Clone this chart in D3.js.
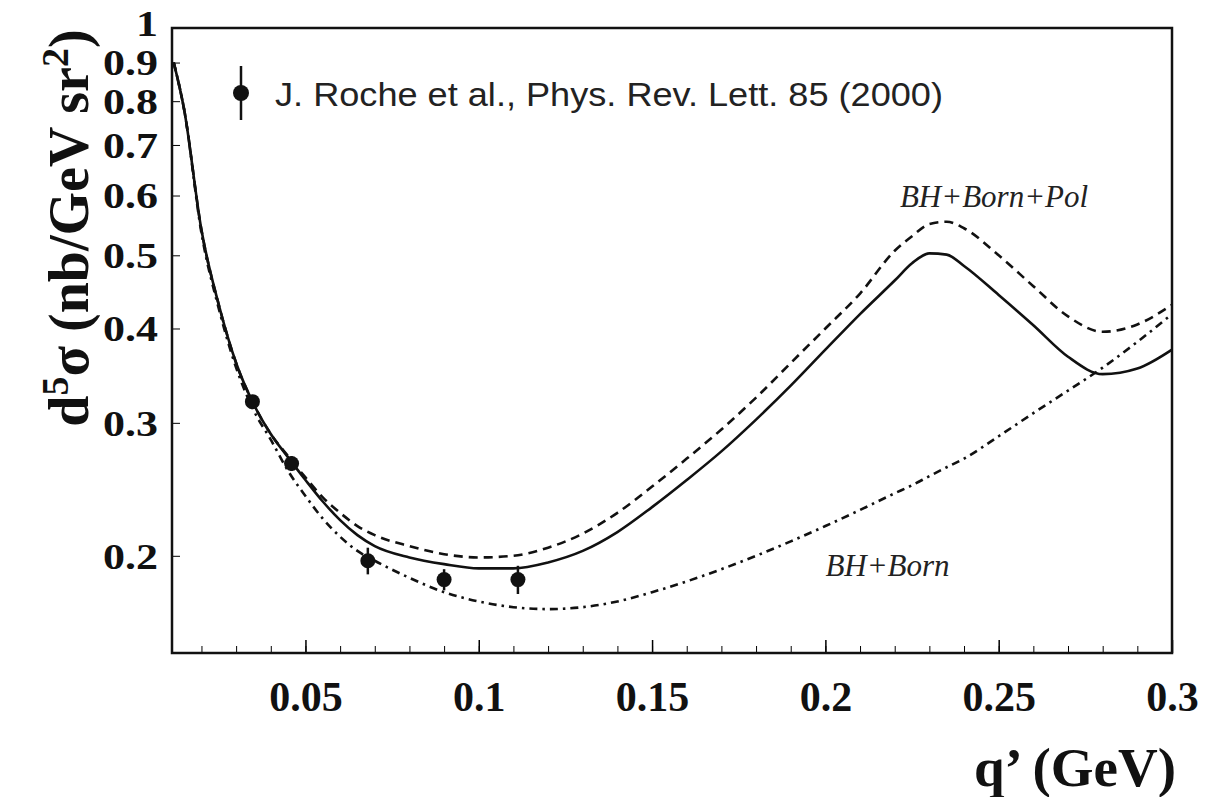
<!DOCTYPE html>
<html>
<head>
<meta charset="utf-8">
<script src="https://cdn.jsdelivr.net/npm/d3@7"></script>
<style>
  body { margin: 0; background: #fff; }
  svg { display: block; }
  .tick text { font-family: "Liberation Serif", serif; font-weight: bold; fill: #111; }
  .xaxis .tick text { font-size: 42px; }
  .yaxis .tick text { font-size: 44px; }
</style>
</head>
<body>
<div id="chart"></div>
<script>
const WIDTH = 1216;
const HEIGHT = 797;

// q' (GeV) sample points for the three theory curves
const qValues = [0.012, 0.015, 0.02, 0.025, 0.03, 0.035, 0.04, 0.045, 0.05, 0.055, 0.06, 0.065, 0.07, 0.08, 0.09, 0.1,
    0.11, 0.12, 0.13, 0.14, 0.15, 0.16, 0.17, 0.18, 0.19, 0.2, 0.21, 0.22, 0.225, 0.23, 0.235, 0.24, 0.25,
    0.26, 0.27, 0.28, 0.29, 0.3];
// full result (solid)
const fullCurve = [0.90, 0.78, 0.54, 0.43, 0.36, 0.318, 0.29, 0.270, 0.252, 0.236, 0.223, 0.213, 0.206, 0.199, 0.195, 0.1925,
    0.1925, 0.196, 0.203, 0.215, 0.232, 0.252, 0.275, 0.303, 0.336, 0.375, 0.418, 0.463, 0.488, 0.503, 0.501, 0.484, 0.443,
    0.404, 0.367, 0.348, 0.354, 0.375];
// BH+Born+Pol (dashed)
const polCurve = [0.90, 0.78, 0.54, 0.43, 0.36, 0.318, 0.29, 0.271, 0.254, 0.239, 0.228, 0.219, 0.213, 0.206, 0.201, 0.199,
    0.200, 0.205, 0.214, 0.228, 0.247, 0.269, 0.294, 0.324, 0.360, 0.400, 0.445, 0.507, 0.530, 0.550, 0.554, 0.543, 0.50,
    0.455, 0.415, 0.396, 0.405, 0.43];
// BH+Born (dash-dot)
const bornCurve = [0.90, 0.78, 0.535, 0.425, 0.355, 0.312, 0.285, 0.259, 0.240, 0.224, 0.212, 0.203, 0.197, 0.187, 0.179, 0.174,
    0.171, 0.170, 0.171, 0.174, 0.179, 0.185, 0.192, 0.200, 0.209, 0.219, 0.230, 0.242, 0.248, 0.255, 0.262, 0.269, 0.288,
    0.309, 0.331, 0.355, 0.384, 0.418];

// J. Roche et al. data
const dataQ = [0.0347, 0.046, 0.068, 0.090, 0.1113];
const dataSigma = [0.320, 0.265, 0.197, 0.186, 0.186];
const dataErr = [0.006, 0.006, 0.008, 0.006, 0.008];

const yTicks = [0.2, 0.3, 0.4, 0.5, 0.6, 0.7, 0.8, 0.9, 1];
const xMajor = [0.05, 0.1, 0.15, 0.2, 0.25, 0.3];
const xMinor = d3.range(2, 30).map(d => d / 100);

const margin = { top: 28, right: 44, bottom: 144, left: 172 };
const width = WIDTH - margin.left - margin.right;
const height = HEIGHT - margin.top - margin.bottom;

const svg = d3.select("#chart").append("svg")
    .attr("width", WIDTH)
    .attr("height", HEIGHT);

const g = svg.append("g")
    .attr("transform", "translate(" + margin.left + "," + margin.top + ")");

const x = d3.scaleLinear().domain([0.0115, 0.3]).range([0, width]);
const y = d3.scaleLog().domain([0.1487, 1]).range([height, 0]);

g.append("defs").append("clipPath").attr("id", "plot-clip")
    .append("rect").attr("width", width).attr("height", height);

// axes with inward ticks
g.append("g")
    .attr("transform", "translate(0," + height + ")")
    .call(d3.axisBottom(x).tickValues(xMinor).tickSize(-7).tickFormat(""))
    .call(a => a.select(".domain").remove());

g.append("g")
    .attr("class", "xaxis")
    .attr("transform", "translate(0," + height + ")")
    .call(d3.axisBottom(x).tickValues(xMajor).tickSizeInner(-13).tickSizeOuter(0).tickPadding(28)
        .tickFormat(d => String(d)))
    .call(a => a.select(".domain").remove())
    .call(a => a.selectAll("line").attr("stroke-width", 1.5));

// y labels are squat in the original, so squash them vertically a bit
g.append("g")
    .attr("class", "yaxis")
    .call(d3.axisLeft(y).tickValues(yTicks).tickSizeInner(-8).tickSizeOuter(0).tickPadding(14)
        .tickFormat(d => d === 1 ? "1" : d3.format(".1f")(d)))
    .call(a => a.select(".domain").remove())
    .call(a => a.selectAll("text")
        .attr("dy", d => d === 1 ? "0.22em" : "0.34em")
        .attr("transform", "scale(1,0.82)"));

// frame
g.append("rect")
    .attr("width", width)
    .attr("height", height)
    .attr("fill", "none")
    .attr("stroke", "#111")
    .attr("stroke-width", 2.5);

const curves = [
    { values: fullCurve, dash: null, w: 2.6 },
    { values: polCurve, dash: "9,6", w: 2.6 },
    { values: bornCurve, dash: "8,5,2.5,5", w: 2.6 }
];

const line = d3.line()
    .x(d => x(d[0]))
    .y(d => y(d[1]))
    .curve(d3.curveMonotoneX);

const plot = g.append("g").attr("clip-path", "url(#plot-clip)");

curves.forEach(c => {
    plot.append("path")
        .datum(qValues.map((q, i) => [q, c.values[i]]))
        .attr("fill", "none")
        .attr("stroke", "#111")
        .attr("stroke-width", c.w)
        .attr("stroke-dasharray", c.dash)
        .attr("d", line);
});

// data points
const pts = dataQ.map((q, i) => ({ q: q, s: dataSigma[i], e: dataErr[i] }));
plot.selectAll(".err")
    .data(pts)
    .enter()
    .append("line")
    .attr("x1", d => x(d.q)).attr("x2", d => x(d.q))
    .attr("y1", d => y(d.s - d.e)).attr("y2", d => y(d.s + d.e))
    .attr("stroke", "#111")
    .attr("stroke-width", 2.5);
plot.selectAll(".pt")
    .data(pts)
    .enter()
    .append("circle")
    .attr("cx", d => x(d.q))
    .attr("cy", d => y(d.s))
    .attr("r", 7.5)
    .attr("fill", "#111");

// legend
const leg = g.append("g").attr("transform", "translate(69,65)");
leg.append("line").attr("x1", 0).attr("x2", 0).attr("y1", -27).attr("y2", 27)
    .attr("stroke", "#111").attr("stroke-width", 2.5);
leg.append("circle").attr("r", 8).attr("fill", "#111");
leg.append("text")
    .attr("x", 34).attr("y", 13)
    .attr("textLength", 668)
    .attr("lengthAdjust", "spacingAndGlyphs")
    .style("font-family", "'Liberation Sans', Arial, sans-serif")
    .style("font-size", "33px")
    .attr("fill", "#222")
    .text("J. Roche et al., Phys. Rev. Lett. 85 (2000)");

// curve annotations
const italic = { "font-family": "'Liberation Serif', serif", "font-style": "italic", "font-size": "31px" };
const addNote = (xv, yv, txt) => {
    const t = g.append("text").attr("x", x(xv)).attr("y", y(yv)).attr("fill", "#222").text(txt);
    Object.entries(italic).forEach(([k, v]) => t.style(k, v));
};
addNote(0.2215, 0.58, "BH+Born+Pol");
addNote(0.2, 0.188, "BH+Born");

// axis titles
svg.append("text")
    .attr("transform", "translate(88,228) rotate(-90)")
    .attr("text-anchor", "middle")
    .style("font-family", "'Liberation Serif', serif")
    .style("font-weight", "bold")
    .style("font-size", "56px")
    .attr("fill", "#111")
    .html("d<tspan dy='-20' font-size='38'>5</tspan><tspan dy='20'>σ  (nb/GeV sr</tspan><tspan dy='-20' font-size='38'>2</tspan><tspan dy='20'>)</tspan>");

svg.append("text")
    .attr("x", 1176)
    .attr("y", 786)
    .attr("text-anchor", "end")
    .style("font-family", "'Liberation Serif', serif")
    .style("font-weight", "bold")
    .style("font-size", "55px")
    .attr("fill", "#111")
    .text("q\u2019 (GeV)");
</script>
</body>
</html>
